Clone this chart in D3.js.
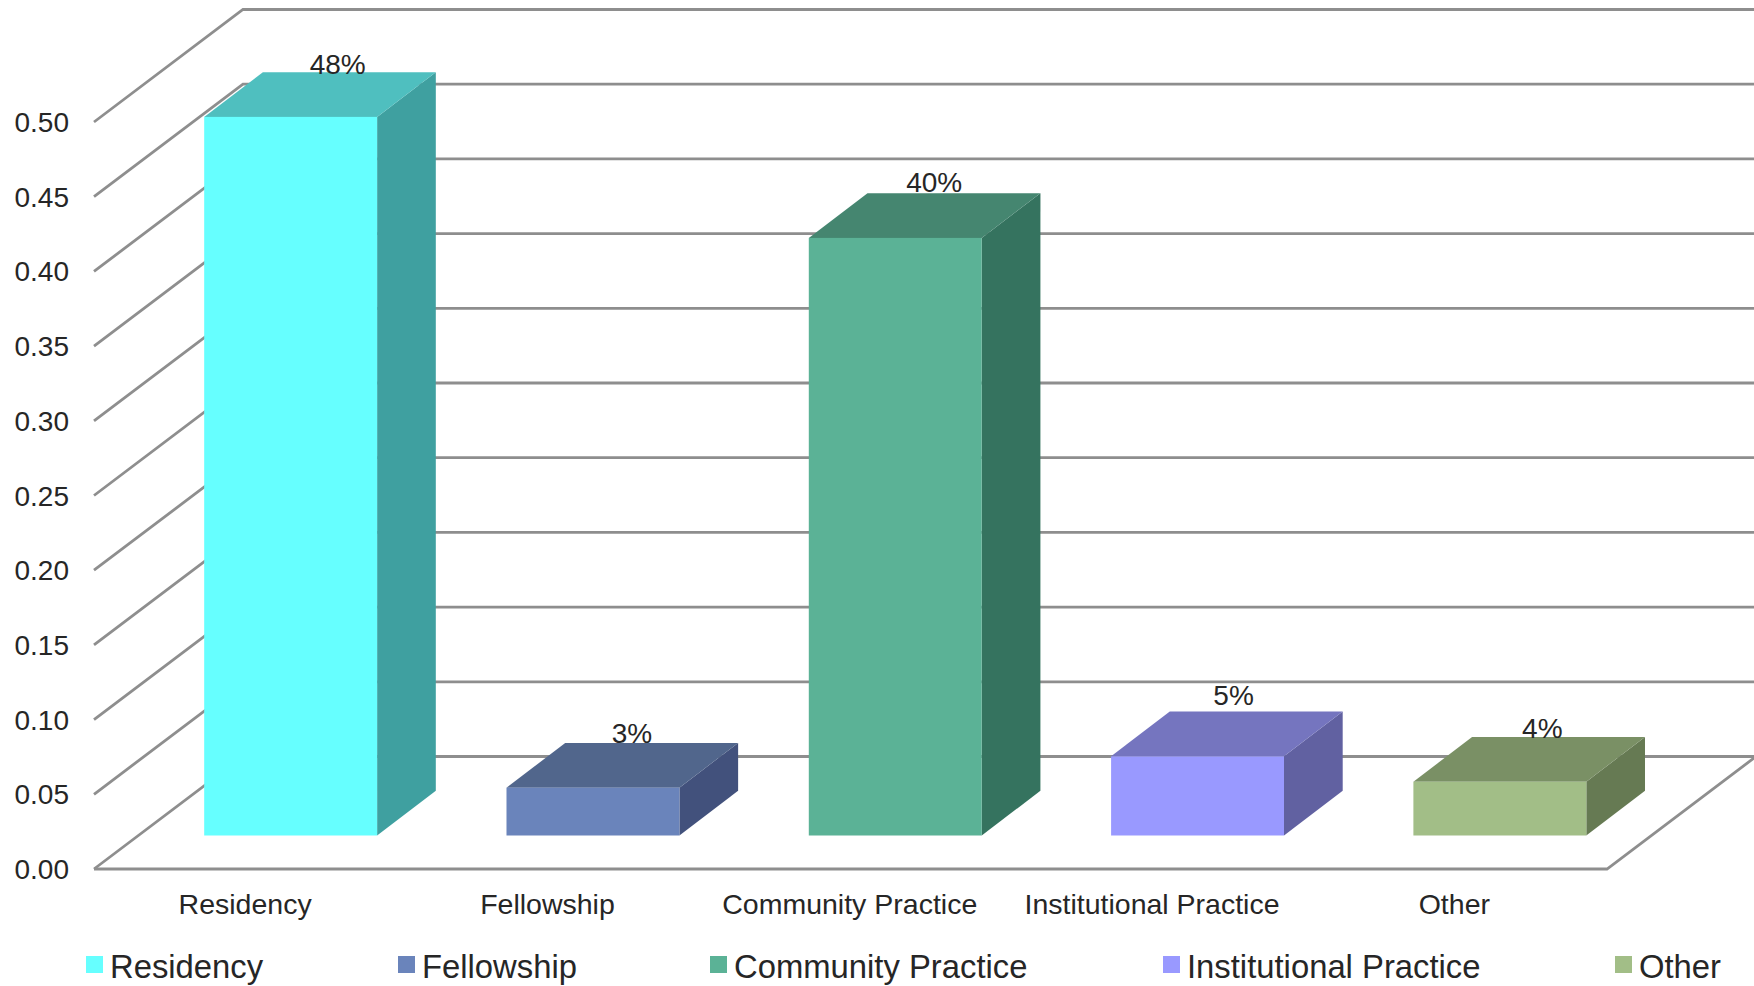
<!DOCTYPE html>
<html>
<head>
<meta charset="utf-8">
<script src="https://cdn.jsdelivr.net/npm/d3@7"></script>
<style>
body { margin: 0; background: #fff; }
svg { display: block; font-family: "Liberation Sans", Arial, sans-serif; fill: #262626; }
</style>
</head>
<body>
<div id="chart"></div>
<script>
var categories = ["Residency", "Fellowship", "Community Practice", "Institutional Practice", "Other"];
var values = [0.481, 0.032, 0.40, 0.053, 0.036];
var frontColors = ["#66ffff", "#6a84bb", "#5bb296", "#9999ff", "#a2be87"];
var topColors = ["#4fbfbf", "#51668c", "#458670", "#7575bf", "#7a9065"];
var sideColors = ["#3fa0a0", "#42517c", "#35735f", "#6161a1", "#667a53"];
var yTicks = [0, 0.05, 0.10, 0.15, 0.20, 0.25, 0.30, 0.35, 0.40, 0.45, 0.50];

var svgWidth = 1754;
var svgHeight = 986;

// depth of the floor, and of one bar, as the projection draws it
var wall = { x: 149, y: -112.5 };
var depth = { x: 58.7, y: -44.7 };
var barShift = { x: 45.5, y: -33.5 };
var floorRight = 1607;

// the value labels do not sit at a fixed place on the bars
var labelNudge = [[1, -0.5], [-7, -2], [-7, -3.5], [-10, -9], [-3.5, -1]];
var legendX = [86, 398, 710, 1163, 1615];

var svg = d3.select("#chart")
    .append("svg")
    .attr("width", svgWidth)
    .attr("height", svgHeight);

var xScale = d3.scaleBand()
    .domain(categories)
    .range([94, 1605.5])
    .paddingInner(0.428)
    .paddingOuter(0.214);

var yScale = d3.scaleLinear()
    .domain([0, 0.5])
    .range([869, 122]);

var gridColor = "#8e8e8e";

// gridlines on the side wall and the back wall
var grid = svg.append("g")
    .attr("fill", "none")
    .attr("stroke", gridColor)
    .attr("stroke-width", 2.8);

grid.selectAll("path")
    .data(yTicks)
    .enter()
    .append("path")
    .attr("d", d => {
        var y = yScale(d);
        return `M94,${y}L${94 + wall.x},${y + wall.y}L1760,${y + wall.y}`;
    });

// floor
grid.append("path")
    .attr("d", `M94,${yScale(0)}L${floorRight},${yScale(0)}L${floorRight + wall.x},${yScale(0) + wall.y}`);

// tick labels
svg.selectAll("text.ytick")
    .data(yTicks)
    .enter()
    .append("text")
    .classed("ytick", true)
    .attr("x", 69)
    .attr("y", d => yScale(d) + 10)
    .attr("text-anchor", "end")
    .attr("font-size", "28px")
    .text(d => d3.format(".2f")(d));

var bars = svg.selectAll("g.bar")
    .data(categories)
    .enter()
    .append("g")
    .classed("bar", true)
    .attr("transform", d => `translate(${xScale(d) + barShift.x}, ${yScale(0) + barShift.y})`);

var w = xScale.bandwidth();
var barHeight = i => yScale(0) - yScale(values[i]);

bars.append("path")
    .attr("fill", (d, i) => sideColors[i])
    .attr("d", (d, i) => {
        var h = barHeight(i);
        return `M${w},0L${w + depth.x},${depth.y}L${w + depth.x},${depth.y - h}L${w},${-h}Z`;
    });

bars.append("path")
    .attr("fill", (d, i) => topColors[i])
    .attr("d", (d, i) => {
        var h = barHeight(i);
        return `M0,${-h}L${depth.x},${depth.y - h}L${w + depth.x},${depth.y - h}L${w},${-h}Z`;
    });

bars.append("rect")
    .attr("x", 0)
    .attr("y", (d, i) => -barHeight(i))
    .attr("width", w)
    .attr("height", (d, i) => barHeight(i))
    .attr("fill", (d, i) => frontColors[i]);

// value labels sit on the back edge of each bar top
svg.selectAll("text.value")
    .data(categories)
    .enter()
    .append("text")
    .classed("value", true)
    .attr("x", (d, i) => xScale(d) + barShift.x + w * 0.5 + 46 + labelNudge[i][0])
    .attr("y", (d, i) => yScale(values[i]) + barShift.y + depth.y + 2 + labelNudge[i][1])
    .attr("text-anchor", "middle")
    .attr("font-size", "28px")
    .text((d, i) => d3.format(".0%")(values[i]));

// category labels
svg.selectAll("text.cat")
    .data(categories)
    .enter()
    .append("text")
    .classed("cat", true)
    .attr("x", d => xScale(d) + w / 2)
    .attr("y", 914)
    .attr("text-anchor", "middle")
    .attr("font-size", "28.5px")
    .text(d => d);

// legend
var legend = svg.selectAll("g.legend")
    .data(categories)
    .enter()
    .append("g")
    .classed("legend", true)
    .attr("transform", (d, i) => `translate(${legendX[i]}, 956)`);

legend.append("rect")
    .attr("width", 17)
    .attr("height", 17)
    .attr("fill", (d, i) => frontColors[i]);

legend.append("text")
    .attr("x", 24)
    .attr("y", 22)
    .attr("font-size", "32.8px")
    .text(d => d);
</script>
</body>
</html>
